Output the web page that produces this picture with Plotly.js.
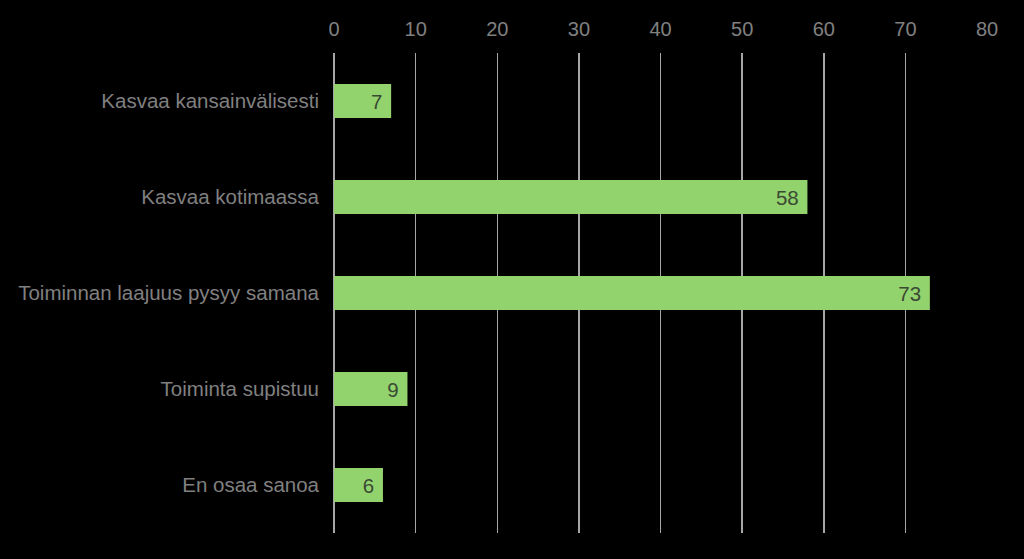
<!DOCTYPE html>
<html>
<head>
<meta charset="utf-8">
<script src="https://cdn.plot.ly/plotly-3.0.1.min.js"></script>
<style>html,body{margin:0;padding:0;background:#000;}#chart{width:1024px;height:559px;}</style>
</head>
<body>
<div id="chart"></div>
<script>
const categories = ["Kasvaa kansainvälisesti", "Kasvaa kotimaassa", "Toiminnan laajuus pysyy samana", "Toiminta supistuu", "En osaa sanoa"];
const values = [7, 58, 73, 9, 6];
const tickVals = [0, 10, 20, 30, 40, 50, 60, 70, 80];

const trace = {
  type: 'bar',
  orientation: 'h',
  y: categories,
  x: values,
  text: values.map(v => String(v) + '\u00a0'),
  textposition: 'inside',
  insidetextanchor: 'end',
  textfont: {family: 'Liberation Sans, Arial, sans-serif', size: 20.5, color: '#3b4a33'},
  marker: {color: '#92d36e'},
  hoverinfo: 'none',
  cliponaxis: false
};

const layout = {
  width: 1024, height: 559,
  paper_bgcolor: '#000', plot_bgcolor: '#000',
  margin: {l: 334, r: 37, t: 53, b: 26, pad: 0},
  bargap: 0.646,
  showlegend: false,
  font: {family: 'Liberation Sans, Arial, sans-serif', color: '#808080'},
  xaxis: {
    side: 'top', range: [0, 80], tickvals: tickVals, ticktext: tickVals.map(String),
    showgrid: true, gridcolor: '#a6a6a6', gridwidth: 1.5,
    zeroline: true, zerolinecolor: '#a6a6a6', zerolinewidth: 1.5,
    showline: false, ticks: '', ticklabelstandoff: 12,
    tickfont: {size: 20, color: '#808080'}, fixedrange: true
  },
  yaxis: {
    type: 'category', autorange: 'reversed', showgrid: false, zeroline: false,
    showline: false, ticks: '', ticklabelstandoff: 14,
    tickfont: {size: 20.5, color: '#808080'}, fixedrange: true
  }
};

Plotly.newPlot('chart', [trace], layout, {displayModeBar: false, staticPlot: true});
</script>
</body>
</html>
